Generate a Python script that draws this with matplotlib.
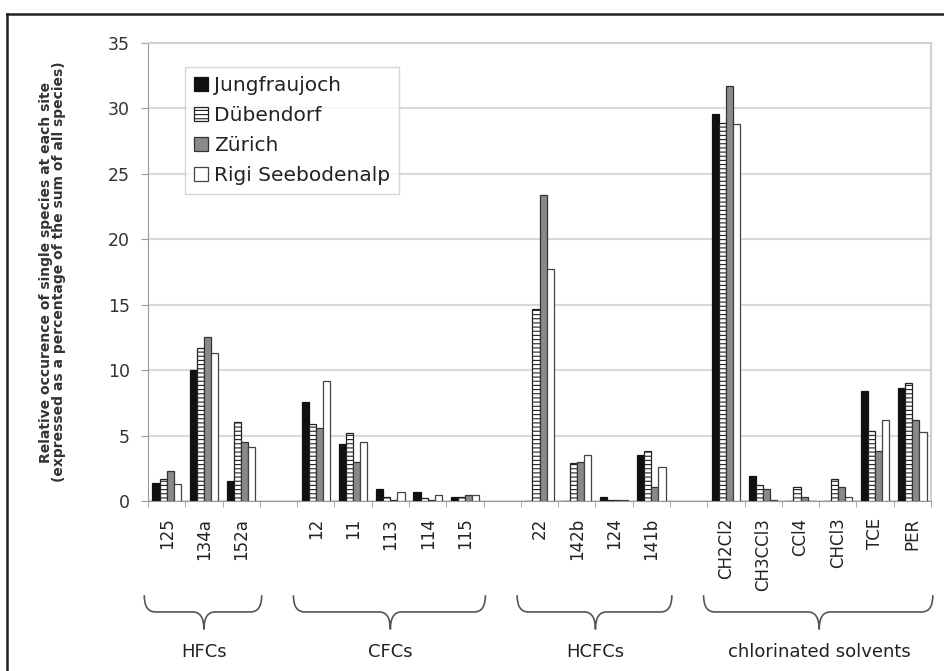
import matplotlib

matplotlib.use("Agg")
import matplotlib.pyplot as plt
import numpy as np
from matplotlib.path import Path
from matplotlib.patches import PathPatch
from matplotlib.transforms import blended_transform_factory

plt.rcParams["font.family"] = ["DejaVu Sans"]
plt.rcParams["hatch.linewidth"] = 0.8

group_names = ["HFCs", "CFCs", "HCFCs", "chlorinated solvents"]
group_species = [
    ["125", "134a", "152a"],
    ["12", "11", "113", "114", "115"],
    ["22", "142b", "124", "141b"],
    ["CH2Cl2", "CH3CCl3", "CCl4", "CHCl3", "TCE", "PER"],
]

sites = ["Jungfraujoch", "Dübendorf", "Zürich", "Rigi Seebodenalp"]
jungfraujoch = [1.4, 10.0, 1.5, 7.6, 4.35, 0.9, 0.7, 0.3, 0.0, 0.0, 0.28, 3.55,
                29.6, 1.9, 0.0, 0.0, 8.4, 8.6]
duebendorf = [1.7, 11.7, 6.0, 5.9, 5.2, 0.28, 0.2, 0.3, 14.7, 2.9, 0.1, 3.85,
              28.9, 1.2, 1.05, 1.65, 5.35, 9.0]
zuerich = [2.3, 12.5, 4.5, 5.55, 2.95, 0.05, 0.05, 0.45, 23.4, 3.0, 0.1, 1.1,
           31.7, 0.9, 0.28, 1.05, 3.8, 6.15]
rigi = [1.3, 11.3, 4.15, 9.2, 4.5, 0.65, 0.45, 0.45, 17.7, 3.5, 0.1, 2.6,
        28.8, 0.1, 0.0, 0.33, 6.15, 5.3]

# positions: one empty slot between groups
positions = []
labels = []
group_spans = []
pos = 0
for species in group_species:
    start = pos
    for name in species:
        positions.append(pos)
        labels.append(name)
        pos += 1
    group_spans.append((start, pos - 1))
    pos += 1
positions = np.array(positions, dtype=float)

fig = plt.figure(figsize=(9.45, 6.71), dpi=100)
ax = fig.add_axes([0.1566, 0.2534, 0.8286, 0.6826])

width = 0.19
styles = [
    dict(color="#111111", edgecolor="#111111"),
    dict(color="white", edgecolor="#222222", hatch="----"),
    dict(color="#8a8a8a", edgecolor="#333333"),
    dict(color="white", edgecolor="#444444"),
]
for k, (site, values) in enumerate(zip(sites, [jungfraujoch, duebendorf, zuerich, rigi])):
    ax.bar(positions + (k - 1.5) * width, values, width, label=site,
           linewidth=0.9, zorder=3, **styles[k])

ax.set_xlim(-0.5, pos - 1.5)
ax.set_ylim(0, 35)
ax.set_yticks(range(0, 36, 5))
ax.yaxis.grid(True, color="#d9d9d9", linewidth=1.5, zorder=0)
ax.set_axisbelow(True)

ax.set_xticks(positions)
ax.set_xticklabels(labels, rotation=90, fontsize=12, color="#222222")
ax.set_xticks(np.arange(-0.5, pos - 1.0, 1.0), minor=True)
ax.tick_params(axis="x", which="major", length=0, pad=12)
ax.tick_params(axis="x", which="minor", length=4, color="#999999")
ax.tick_params(axis="y", length=5, color="#999999", labelsize=12.5,
               labelcolor="#333333", pad=8)

for side in ["top", "right"]:
    ax.spines[side].set_color("#d0d0d0")
    ax.spines[side].set_linewidth(1.5)
ax.spines["left"].set_color("#999999")
ax.spines["bottom"].set_color("#999999")

ax.set_ylabel("Relative occurence of single species at each site\n"
              "(expressed as a percentage of the sum of all species)",
              fontsize=10, fontweight="bold", color="#333333",
              linespacing=0.95, labelpad=30)

leg = ax.legend(loc="upper left", bbox_to_anchor=(0.047, 0.948), borderaxespad=0,
                fontsize=14.5, frameon=True, fancybox=False, handlelength=0.7,
                handleheight=0.7, handletextpad=0.3, labelspacing=0.55,
                borderpad=0.45, labelcolor="#222222")
leg.get_frame().set_edgecolor("#cccccc")
leg.get_frame().set_linewidth(1.0)

# braces under the groups
trans = blended_transform_factory(ax.transData, fig.transFigure)
y_top, y_mid, y_tip, y_text = 0.113, 0.088, 0.062, 0.028
r = 0.3
for name, (first, last) in zip(group_names, group_spans):
    x0, x1 = first - 0.6, last + 0.55
    xc = (first + last) / 2
    verts = [
        (x0, y_top), (x0, y_mid), (x0 + r, y_mid),
        (xc - r, y_mid),
        (xc, y_mid), (xc, y_tip),
        (xc, y_mid), (xc + r, y_mid),
        (x1 - r, y_mid),
        (x1, y_mid), (x1, y_top),
    ]
    codes = [Path.MOVETO, Path.CURVE3, Path.CURVE3, Path.LINETO,
             Path.CURVE3, Path.CURVE3, Path.CURVE3, Path.CURVE3,
             Path.LINETO, Path.CURVE3, Path.CURVE3]
    fig.add_artist(PathPatch(Path(verts, codes), transform=trans, fill=False,
                             edgecolor="#555555", linewidth=1.2))
    fig.text(xc, y_text, name, transform=trans, ha="center", va="center",
             fontsize=13, color="#222222")

# outer frame of the figure
fig.add_artist(plt.Line2D([0.0074, 1.0], [0.979, 0.979], transform=fig.transFigure,
                          color="#222222", linewidth=1.8))
fig.add_artist(plt.Line2D([0.0074, 0.0074], [0.0, 0.979], transform=fig.transFigure,
                          color="#222222", linewidth=1.8))

fig.savefig("out.png", dpi=100)
